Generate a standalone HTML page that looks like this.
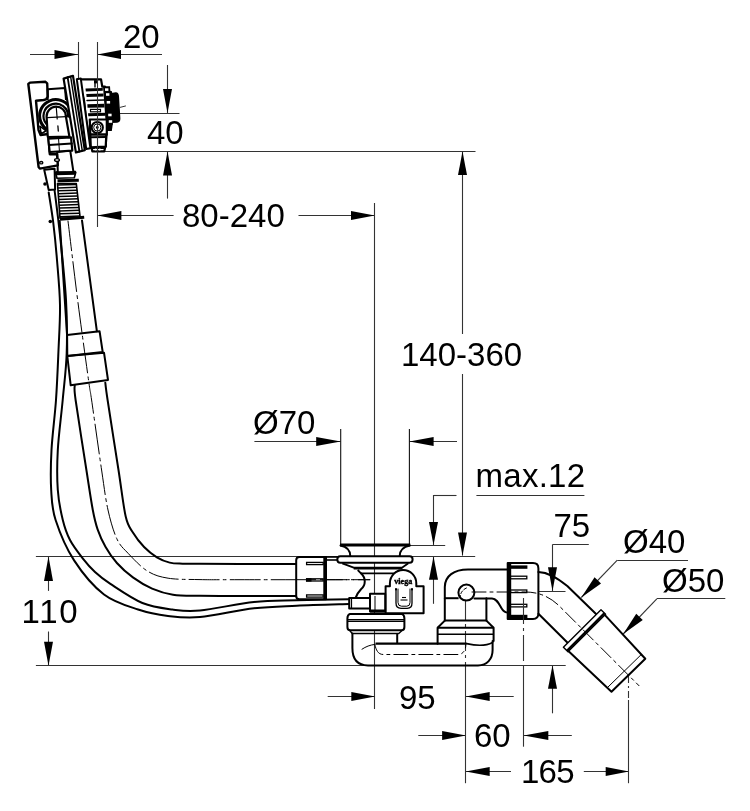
<!DOCTYPE html>
<html><head><meta charset="utf-8"><style>
html,body{margin:0;padding:0;background:#fff;}
svg{display:block;will-change:transform;}
</style></head><body>
<svg width="750" height="811" viewBox="0 0 750 811" font-family="'Liberation Sans', sans-serif" fill="none">
<rect width="750" height="811" fill="#fff"/>
<g fill="#000" stroke="none">
</g>
<line x1="30" y1="54.5" x2="78" y2="54.5" stroke="#333" stroke-width="1.1" />
<polygon points="78.00,54.50 54.50,59.00 54.50,50.00" fill="#000"/>
<line x1="97.3" y1="54.5" x2="162" y2="54.5" stroke="#333" stroke-width="1.1" />
<polygon points="97.30,54.50 121.00,50.00 121.00,59.00" fill="#000"/>
<line x1="78.5" y1="42" x2="78.5" y2="80" stroke="#333" stroke-width="1.1" />
<text fill="#000" x="123" y="47.7" font-size="33" text-anchor="start">20</text>
<line x1="167.5" y1="65" x2="167.5" y2="113" stroke="#333" stroke-width="1.1" />
<polygon points="167.50,113.00 163.00,89.00 172.00,89.00" fill="#000"/>
<line x1="120" y1="113.5" x2="179.5" y2="113.5" stroke="#333" stroke-width="1.1" />
<line x1="104" y1="151.5" x2="475.5" y2="151.5" stroke="#333" stroke-width="1.1" />
<line x1="167.5" y1="151.5" x2="167.5" y2="198.6" stroke="#333" stroke-width="1.1" />
<polygon points="167.50,151.50 172.00,175.50 163.00,175.50" fill="#000"/>
<text fill="#000" x="147" y="143.7" font-size="33" text-anchor="start">40</text>
<line x1="97.3" y1="215.5" x2="173.6" y2="215.5" stroke="#333" stroke-width="1.1" />
<polygon points="97.30,215.50 121.40,211.00 121.40,220.00" fill="#000"/>
<line x1="298.5" y1="215.5" x2="374.7" y2="215.5" stroke="#333" stroke-width="1.1" />
<polygon points="374.70,215.50 351.00,220.00 351.00,211.00" fill="#000"/>
<text fill="#000" x="182" y="227" font-size="33" text-anchor="start">80-240</text>
<line x1="374.5" y1="203" x2="374.5" y2="709" stroke="#333" stroke-width="1.1" />
<line x1="462.5" y1="151.5" x2="462.5" y2="334" stroke="#333" stroke-width="1.1" />
<polygon points="462.50,151.50 467.00,175.00 458.00,175.00" fill="#000"/>
<line x1="462.5" y1="374" x2="462.5" y2="555.6" stroke="#333" stroke-width="1.1" />
<polygon points="462.50,555.60 458.00,532.50 467.00,532.50" fill="#000"/>
<text fill="#000" x="401" y="365.5" font-size="33" text-anchor="start">140-360</text>
<line x1="254.4" y1="441.5" x2="340.7" y2="441.5" stroke="#333" stroke-width="1.1" />
<polygon points="340.70,441.50 316.20,446.00 316.20,437.00" fill="#000"/>
<line x1="409.4" y1="441.5" x2="457" y2="441.5" stroke="#333" stroke-width="1.1" />
<polygon points="409.40,441.50 433.60,437.00 433.60,446.00" fill="#000"/>
<text fill="#000" x="253" y="434" font-size="33" text-anchor="start">Ø70</text>
<line x1="476.4" y1="495.5" x2="584.4" y2="495.5" stroke="#333" stroke-width="1.1" />
<line x1="433.4" y1="495.5" x2="456.5" y2="495.5" stroke="#333" stroke-width="1.1" />
<line x1="433.5" y1="495" x2="433.5" y2="545" stroke="#333" stroke-width="1.1" />
<polygon points="433.50,545.00 429.00,522.00 438.00,522.00" fill="#000"/>
<line x1="410" y1="545.5" x2="445.2" y2="545.5" stroke="#333" stroke-width="1.1" />
<line x1="433.5" y1="556.6" x2="433.5" y2="603.8" stroke="#333" stroke-width="1.1" />
<polygon points="433.50,556.60 438.00,579.80 429.00,579.80" fill="#000"/>
<line x1="35.9" y1="556.5" x2="475.2" y2="556.5" stroke="#333" stroke-width="1.1" />
<text fill="#000" x="475.5" y="487.4" font-size="33" text-anchor="start" textLength="109.6" lengthAdjust="spacing">max.12</text>
<line x1="552.8" y1="544.5" x2="588.8" y2="544.5" stroke="#333" stroke-width="1.1" />
<line x1="552.5" y1="544.3" x2="552.5" y2="591" stroke="#333" stroke-width="1.1" />
<polygon points="552.50,591.00 548.00,567.30 557.00,567.30" fill="#000"/>
<line x1="530" y1="591.5" x2="565.5" y2="591.5" stroke="#333" stroke-width="1.1" />
<line x1="552.5" y1="665.3" x2="552.5" y2="713.3" stroke="#333" stroke-width="1.1" />
<polygon points="552.50,665.30 557.00,688.80 548.00,688.80" fill="#000"/>
<line x1="35.9" y1="665.5" x2="565.7" y2="665.5" stroke="#333" stroke-width="1.1" />
<text fill="#000" x="553.5" y="536.7" font-size="33" text-anchor="start">75</text>
<line x1="617.3" y1="560.5" x2="688" y2="560.5" stroke="#333" stroke-width="1.1" />
<line x1="581.3" y1="597.5" x2="617.3" y2="560.1" stroke="#333" stroke-width="1.1" />
<polygon points="581.30,597.50 594.56,577.28 601.04,583.52" fill="#000"/>
<text fill="#000" x="623" y="553" font-size="33" text-anchor="start">Ø40</text>
<line x1="656.8" y1="598.5" x2="725.3" y2="598.5" stroke="#333" stroke-width="1.1" />
<line x1="623.2" y1="634" x2="656.8" y2="598.8" stroke="#333" stroke-width="1.1" />
<polygon points="623.20,634.00 636.24,613.80 642.76,620.00" fill="#000"/>
<text fill="#000" x="662" y="592" font-size="33" text-anchor="start">Ø50</text>
<line x1="48.5" y1="556.4" x2="48.5" y2="590.9" stroke="#333" stroke-width="1.1" />
<polygon points="48.50,556.40 53.00,580.90 44.00,580.90" fill="#000"/>
<line x1="48.5" y1="631.5" x2="48.5" y2="665.7" stroke="#333" stroke-width="1.1" />
<polygon points="48.50,665.70 44.00,641.80 53.00,641.80" fill="#000"/>
<text fill="#000" x="21.5" y="622.8" font-size="33" text-anchor="start" textLength="56.1" lengthAdjust="spacing">110</text>
<line x1="327.7" y1="696.5" x2="375" y2="696.5" stroke="#333" stroke-width="1.1" />
<polygon points="375.00,696.50 351.30,701.00 351.30,692.00" fill="#000"/>
<line x1="465.9" y1="696.5" x2="513.7" y2="696.5" stroke="#333" stroke-width="1.1" />
<polygon points="465.90,696.50 489.70,692.00 489.70,701.00" fill="#000"/>
<text fill="#000" x="399" y="708.5" font-size="33" text-anchor="start">95</text>
<line x1="418.3" y1="735.5" x2="465.9" y2="735.5" stroke="#333" stroke-width="1.1" />
<polygon points="465.90,735.50 442.10,740.00 442.10,731.00" fill="#000"/>
<line x1="523.8" y1="735.5" x2="571.8" y2="735.5" stroke="#333" stroke-width="1.1" />
<polygon points="523.80,735.50 548.30,731.00 548.30,740.00" fill="#000"/>
<line x1="523.5" y1="665" x2="523.5" y2="746.7" stroke="#333" stroke-width="1.1" />
<text fill="#000" x="474" y="747" font-size="33" text-anchor="start">60</text>
<line x1="465.8" y1="771.5" x2="511" y2="771.5" stroke="#333" stroke-width="1.1" />
<polygon points="465.80,771.50 489.70,767.00 489.70,776.00" fill="#000"/>
<line x1="583.8" y1="771.5" x2="628.9" y2="771.5" stroke="#333" stroke-width="1.1" />
<polygon points="628.90,771.50 605.70,776.00 605.70,767.00" fill="#000"/>
<line x1="465.5" y1="600" x2="465.5" y2="665" stroke="#333" stroke-width="1.1" stroke-dasharray="20 4 3 4"/>
<line x1="465.5" y1="665" x2="465.5" y2="783.2" stroke="#333" stroke-width="1.1" />
<line x1="628.5" y1="676" x2="628.5" y2="700" stroke="#333" stroke-width="1.1" stroke-dasharray="7 3 2 3"/>
<line x1="628.5" y1="700" x2="628.5" y2="783.2" stroke="#333" stroke-width="1.1" />
<text fill="#000" x="521" y="783" font-size="33" text-anchor="start" textLength="53.5" lengthAdjust="spacing">165</text>
<path d="M59.70,221.00 C60.30,230.33 62.08,258.17 63.30,277.00 C64.52,295.83 66.38,324.50 67.00,334.00" stroke="#000" fill="none" stroke-linejoin="round" stroke-linecap="round" stroke-width="2" />
<path d="M74.70,385.50 C74.85,387.92 73.65,385.92 75.60,400.00 C77.55,414.08 83.53,451.67 86.40,470.00 C89.27,488.33 90.93,500.12 92.80,510.00 C94.67,519.88 95.47,523.13 97.60,529.30 C99.73,535.47 102.38,541.38 105.60,547.00 C108.82,552.62 112.35,557.93 116.90,563.00 C121.45,568.07 127.03,573.13 132.90,577.40 C138.77,581.67 145.42,585.72 152.10,588.60 C158.78,591.48 165.02,593.50 173.00,594.70 C180.98,595.90 188.83,595.60 200.00,595.80 C211.17,596.00 224.00,595.88 240.00,595.90 C256.00,595.92 286.67,595.90 296.00,595.90" stroke="#000" fill="none" stroke-linejoin="round" stroke-linecap="round" stroke-width="2" />
<path d="M82.00,220.50 C84.48,238.97 94.42,312.83 96.90,331.30" stroke="#000" fill="none" stroke-linejoin="round" stroke-linecap="round" stroke-width="2" />
<path d="M105.30,382.70 C105.68,385.58 105.40,385.45 107.60,400.00 C109.80,414.55 115.48,450.58 118.50,470.00 C121.52,489.42 123.30,506.08 125.70,516.50 C128.10,526.92 129.83,527.42 132.90,532.50 C135.97,537.58 140.10,542.87 144.10,547.00 C148.10,551.13 152.63,554.70 156.90,557.30 C161.17,559.90 165.42,561.53 169.70,562.60 C173.98,563.67 177.55,563.50 182.60,563.70 C187.65,563.90 190.43,563.77 200.00,563.80 C209.57,563.83 224.00,563.88 240.00,563.90 C256.00,563.92 286.67,563.90 296.00,563.90" stroke="#000" fill="none" stroke-linejoin="round" stroke-linecap="round" stroke-width="2" />
<path d="M68.00,221.00 C69.67,234.62 74.55,275.98 78.00,302.70 C81.45,329.42 86.43,365.08 88.70,381.30 C90.97,397.52 89.45,385.22 91.60,400.00 C93.75,414.78 98.87,451.67 101.60,470.00 C104.33,488.33 105.45,498.52 108.00,510.00 C110.55,521.48 113.55,531.68 116.90,538.90 C120.25,546.12 123.03,547.95 128.10,553.30 C133.17,558.65 140.63,566.85 147.30,571.00 C153.97,575.15 159.32,576.77 168.10,578.20 C176.88,579.63 188.02,579.35 200.00,579.60 C211.98,579.85 211.67,579.68 240.00,579.70 C268.33,579.72 348.33,579.70 370.00,579.70" stroke="#000" fill="none" stroke-linejoin="round" stroke-linecap="round" stroke-width="1" stroke-dasharray="30 4 3 4"/>
<polygon points="67.10,335.00 99.60,331.30 102.70,352.00 67.30,356.00" stroke="#000" fill="none" stroke-width="2" stroke-linejoin="round" />
<polygon points="67.30,356.00 104.00,352.70 108.00,380.00 70.70,385.30" stroke="#000" fill="none" stroke-width="2" stroke-linejoin="round" />
<path d="M48.70,192.50 C49.47,197.58 51.92,211.75 53.30,223.00 C54.68,234.25 55.88,246.33 57.00,260.00 C58.12,273.67 59.75,290.00 60.00,305.00 C60.25,320.00 59.17,334.17 58.50,350.00 C57.83,365.83 57.17,383.33 56.00,400.00 C54.83,416.67 52.30,435.00 51.50,450.00 C50.70,465.00 50.52,478.33 51.20,490.00 C51.88,501.67 51.78,508.27 55.60,520.00 C59.42,531.73 66.03,547.98 74.10,560.40 C82.17,572.82 93.33,586.32 104.00,594.50 C114.67,602.68 127.43,605.93 138.10,609.50 C148.77,613.07 157.68,614.65 168.00,615.90 C178.32,617.15 185.67,618.27 200.00,617.00 C214.33,615.73 237.88,610.18 254.00,608.30 C270.12,606.42 280.87,606.42 296.70,605.70 C312.53,604.98 340.28,604.28 349.00,604.00" stroke="#000" fill="none" stroke-linejoin="round" stroke-linecap="round" stroke-width="2" />
<path d="M54.60,190.50 C55.50,197.92 58.10,216.75 60.00,235.00 C61.90,253.25 64.88,280.33 66.00,300.00 C67.12,319.67 67.25,336.33 66.70,353.00 C66.15,369.67 64.18,383.83 62.70,400.00 C61.22,416.17 58.62,435.00 57.80,450.00 C56.98,465.00 56.97,478.33 57.80,490.00 C58.63,501.67 60.77,511.67 62.80,520.00 C64.83,528.33 66.68,533.62 70.00,540.00 C73.32,546.38 78.53,552.97 82.70,558.30 C86.87,563.63 90.38,567.73 95.00,572.00 C99.62,576.27 102.50,578.73 110.40,583.90 C118.30,589.07 132.08,598.73 142.40,603.00 C152.72,607.27 162.70,608.25 172.30,609.50 C181.90,610.75 186.38,611.77 200.00,610.50 C213.62,609.23 237.88,603.62 254.00,601.90 C270.12,600.18 280.87,600.63 296.70,600.20 C312.53,599.77 340.28,599.45 349.00,599.30" stroke="#000" fill="none" stroke-linejoin="round" stroke-linecap="round" stroke-width="2" />
<circle cx="45" cy="184" r="1.8" fill="#000"/>
<circle cx="50.3" cy="221.5" r="1.8" fill="#000"/>
<polygon points="57.50,183.60 76.30,183.60 80.20,218.10 60.00,218.10" stroke="#000" fill="#fff" stroke-width="1.6" stroke-linejoin="round" />
<line x1="57.60" y1="185.04" x2="76.46" y2="184.44" stroke="#000" stroke-width="1.5"/>
<line x1="57.81" y1="187.91" x2="76.79" y2="187.31" stroke="#000" stroke-width="1.5"/>
<line x1="58.02" y1="190.79" x2="77.11" y2="190.19" stroke="#000" stroke-width="1.5"/>
<line x1="58.23" y1="193.66" x2="77.44" y2="193.06" stroke="#000" stroke-width="1.5"/>
<line x1="58.44" y1="196.54" x2="77.76" y2="195.94" stroke="#000" stroke-width="1.5"/>
<line x1="58.65" y1="199.41" x2="78.09" y2="198.81" stroke="#000" stroke-width="1.5"/>
<line x1="58.85" y1="202.29" x2="78.41" y2="201.69" stroke="#000" stroke-width="1.5"/>
<line x1="59.06" y1="205.16" x2="78.74" y2="204.56" stroke="#000" stroke-width="1.5"/>
<line x1="59.27" y1="208.04" x2="79.06" y2="207.44" stroke="#000" stroke-width="1.5"/>
<line x1="59.48" y1="210.91" x2="79.39" y2="210.31" stroke="#000" stroke-width="1.5"/>
<line x1="59.69" y1="213.79" x2="79.71" y2="213.19" stroke="#000" stroke-width="1.5"/>
<line x1="59.90" y1="216.66" x2="80.04" y2="216.06" stroke="#000" stroke-width="1.5"/>
<line x1="60" y1="219.3" x2="84.2" y2="217.3" stroke="#000" stroke-width="3"/>
<line x1="57.5" y1="180.8" x2="78.8" y2="180.2" stroke="#000" stroke-width="3"/>
<polygon points="55.60,172.80 75.80,172.30 74.30,177.70 57.00,178.20" stroke="#000" fill="#fff" stroke-width="1.6" stroke-linejoin="round" />
<line x1="55.6" y1="172.8" x2="75.8" y2="172.3" stroke="#000" stroke-width="3"/>
<polygon points="44.20,169.80 54.60,168.80 55.10,189.50 48.70,190.00" stroke="#000" fill="#fff" stroke-width="2" stroke-linejoin="round" />
<polygon points="57.20,152.00 70.20,150.50 73.50,172.30 57.80,172.60" stroke="#000" fill="#fff" stroke-width="2" stroke-linejoin="round" />
<line x1="55.4" y1="173.4" x2="75.8" y2="172.9" stroke="#000" stroke-width="3.6"/>
<polygon points="28.30,84.00 30.00,82.60 45.50,81.80 47.20,83.30 47.70,96.70 46.00,99.30 43.70,100.00 36.00,100.70 38.50,130.00 40.60,135.00 48.20,134.00 49.80,154.20 57.00,154.00 57.80,165.40 39.80,168.60 38.60,167.00" stroke="#000" fill="#fff" stroke-width="2.4" stroke-linejoin="round" />
<polyline points="47.70,100.00 47.70,89.30 65.00,88.00 66.00,100.00" stroke="#000" fill="none" stroke-width="2" stroke-linejoin="round" />
<path d="M39.5,130 L39,114 C40,104 47,99 55.5,99 C64,99 70.5,104 71.8,112 L72.5,135 L58,137 Z" stroke="#000" fill="#fff" stroke-width="0" stroke-linejoin="round" stroke-linecap="round" />
<path d="M71.84,118.05 A16.2,16.2 0 1 0 45.83,128.57" stroke="#000" fill="none" stroke-width="3.0" stroke-linejoin="round" stroke-linecap="round" />
<path d="M68.08,116.64 A12.3,12.3 0 1 0 46.66,124.23" stroke="#000" fill="none" stroke-width="2.2" stroke-linejoin="round" stroke-linecap="round" />
<path d="M47.8,137 L46.6,116.5 A9.6,9.6 0 0 1 65.8,116 L69.4,136.6 Z" stroke="#000" fill="#fff" stroke-width="2.2" stroke-linejoin="round" stroke-linecap="round" />
<line x1="47.20" y1="117.60" x2="66.20" y2="116.60" stroke="#000" stroke-width="1.2" stroke-linecap="round" />
<line x1="56.20" y1="106.50" x2="57.20" y2="119.00" stroke="#000" stroke-width="1.2" stroke-linecap="round" />
<line x1="57.90" y1="126.00" x2="58.30" y2="131.00" stroke="#000" stroke-width="1.3" stroke-linecap="round" />
<polygon points="39.80,126.20 46.20,130.80 41.20,133.80" stroke="#000" fill="#fff" stroke-width="1.6" stroke-linejoin="round" />
<polygon points="48.30,138.70 71.00,137.30 72.30,150.70 49.70,152.00" stroke="#000" fill="#fff" stroke-width="2.2" stroke-linejoin="round" />
<line x1="49.00" y1="145.00" x2="71.80" y2="143.60" stroke="#000" stroke-width="2" stroke-linecap="round" />
<line x1="58.50" y1="138.00" x2="59.50" y2="152.00" stroke="#000" stroke-width="1" stroke-linecap="round" />
<ellipse cx="41.2" cy="162.7" rx="1.6" ry="1.2" stroke="#000" stroke-width="1.4" fill="#fff"/>
<ellipse cx="57" cy="160" rx="2.4" ry="1.4" stroke="#000" stroke-width="1.4" fill="#fff"/>
<polygon points="77.70,79.30 101.00,79.30 102.30,86.70 105.00,86.70 106.30,91.30 111.00,92.00 111.70,124.00 106.30,130.70 106.30,134.70 105.70,146.70 90.30,148.00 89.00,134.70 86.00,120.00 84.00,100.00" stroke="#000" fill="#fff" stroke-width="2.2" stroke-linejoin="round" />
<path d="M111.3,93.6 L115.8,93 Q118,93.3 118.3,96 L119.7,118.5 Q119.8,121.6 117,122 L111.6,122.3 Z" stroke="#000" fill="#000" stroke-width="1.4" stroke-linejoin="round" stroke-linecap="round" />
<polygon points="103,86.3 110,86.3 112.8,124 111.8,131 106.3,131" fill="#000"/>
<rect x="105" y="88.3" width="3.4" height="2.6" fill="#fff"/>
<rect x="106" y="93.2" width="3.4" height="2.6" fill="#fff"/>
<rect x="106.7" y="101" width="3.4" height="2.6" fill="#fff"/>
<rect x="108.2" y="113.7" width="3.4" height="2.6" fill="#fff"/>
<rect x="108.8" y="120.2" width="3.4" height="2.6" fill="#fff"/>
<polygon points="85.5,88.6 102.8,88 102.8,90.8 85.8,91.4" fill="#000"/>
<polygon points="86.3,94 103.5,93.6 103.5,96.6 86.6,97" fill="#000"/>
<line x1="87.00" y1="100.50" x2="104.00" y2="100.00" stroke="#000" stroke-width="1.4" stroke-linecap="round" />
<polygon points="87.3,104.2 104.2,103.8 104.4,107.4 87.6,107.8" fill="#000"/>
<rect x="90.5" y="109.4" width="10" height="2.4" fill="#fff" stroke="#000" stroke-width="1.2"/>
<polygon points="88,113.2 105.3,112.8 105.5,115.8 88.3,116.2" fill="#000"/>
<line x1="95.00" y1="81.00" x2="95.00" y2="87.00" stroke="#000" stroke-width="1.4" stroke-linecap="round" />
<rect x="94" y="80.2" width="4" height="3.2" fill="#000"/>
<polygon points="89.80,119.50 106.80,119.50 106.80,134.70 90.30,134.70" stroke="#000" fill="#fff" stroke-width="2.2" stroke-linejoin="round" />
<circle cx="97.3" cy="127.5" r="5.6" stroke="#000" stroke-width="2" fill="#fff"/>
<circle cx="97.3" cy="127.5" r="3.6" stroke="#000" stroke-width="1" fill="#fff"/>
<circle cx="97.3" cy="127.5" r="1.4" fill="#000"/>
<polygon points="90.30,134.70 106.30,134.70 105.70,146.70 90.80,147.30" stroke="#000" fill="#fff" stroke-width="2.2" stroke-linejoin="round" />
<line x1="90.50" y1="137.30" x2="106.00" y2="137.10" stroke="#000" stroke-width="2" stroke-linecap="round" />
<polygon points="91.70,148.00 105.00,148.00 104.30,151.30 92.30,151.30" stroke="#000" fill="#fff" stroke-width="2.2" stroke-linejoin="round" />
<rect x="94.8" y="148.6" width="1.6" height="1.8" fill="#fff"/><rect x="99" y="148.6" width="1.6" height="1.8" fill="#fff"/>
<polygon points="63.60,78.60 73.00,75.80 84.80,150.20 75.90,152.40" stroke="#000" fill="#fff" stroke-width="2.2" stroke-linejoin="round" />
<line x1="67.60" y1="77.20" x2="79.40" y2="151.50" stroke="#000" stroke-width="1.8" stroke-linecap="round" />
<line x1="70.60" y1="76.40" x2="82.30" y2="150.80" stroke="#000" stroke-width="1.4" stroke-linecap="round" />
<polygon points="76.80,79.20 80.80,78.60 90.40,148.20 86.20,149.00" stroke="#000" fill="#fff" stroke-width="2.0" stroke-linejoin="round" />
<line x1="120.00" y1="107.40" x2="125.50" y2="106.00" stroke="#333" stroke-width="1" stroke-linecap="round" />
<path d="M299.5,557 H326 V599.3 H299.5 Q296.2,599.3 296.2,596 V560.3 Q296.2,557 299.5,557 Z" stroke="#000" fill="#fff" stroke-width="2" stroke-linejoin="round" stroke-linecap="round" />
<line x1="324.8" y1="557" x2="324.8" y2="599.3" stroke="#000" stroke-width="3" />
<rect x="306.6" y="562.4" width="16.6" height="2.2" fill="#fff" stroke="#000" stroke-width="1.3"/>
<rect x="306.6" y="578.8" width="16.6" height="2.2" fill="#fff" stroke="#000" stroke-width="1.3"/>
<rect x="306.6" y="594.9" width="16.6" height="2.2" fill="#fff" stroke="#000" stroke-width="1.3"/>
<rect x="306" y="578.2" width="5.5" height="3.4" fill="#000"/>
<line x1="296" y1="579.7" x2="370" y2="579.7" stroke="#000" stroke-width="1" stroke-dasharray="20 4 3 4"/>
<polyline points="326.00,557.00 337.30,557.00" stroke="#000" fill="none" stroke-width="1.6" stroke-linejoin="round" />
<polyline points="326.00,560.00 337.50,560.00" stroke="#000" fill="none" stroke-width="1.6" stroke-linejoin="round" />
<line x1="340.7" y1="429" x2="340.7" y2="545" stroke="#111" stroke-width="1.1" />
<line x1="409.4" y1="429" x2="409.4" y2="545" stroke="#111" stroke-width="1.1" />
<line x1="340" y1="545" x2="410.3" y2="545" stroke="#000" stroke-width="3" />
<path d="M340.5,545.5 C346,546.5 350.3,549 350.3,556.3" stroke="#000" fill="none" stroke-width="2" stroke-linejoin="round" stroke-linecap="round" />
<path d="M409.8,545.5 C404.3,546.5 399.7,549 399.7,556.3" stroke="#000" fill="none" stroke-width="2" stroke-linejoin="round" stroke-linecap="round" />
<path d="M340.3,556.3 H409.6 Q412.6,556.3 412.6,559.5 Q412.6,562.7 409.6,562.7 H340.3 Q337.3,562.7 337.3,559.5 Q337.3,556.3 340.3,556.3 Z" stroke="#000" fill="#fff" stroke-width="2" stroke-linejoin="round" stroke-linecap="round" />
<polyline points="342.30,563.30 353.70,567.60 402.30,567.60 408.30,563.30" stroke="#000" fill="none" stroke-width="1.8" stroke-linejoin="round" />
<line x1="353.7" y1="568.2" x2="402.3" y2="568.2" stroke="#000" stroke-width="2.6" />
<polyline points="357.70,570.00 361.00,573.30 395.70,573.30 399.70,570.00" stroke="#000" fill="none" stroke-width="1.8" stroke-linejoin="round" />
<path d="M361,573.3 C366,578 366,585 361,589.3 C358.5,592 356.5,595 355.7,597.6" stroke="#000" fill="none" stroke-width="2" stroke-linejoin="round" stroke-linecap="round" />
<path d="M385.6,613.2 V586.3 H389.9 V583.2 A13.2,13.2 0 0 1 416.3,583.2 V586.3 H423.6 V613.2 Z" stroke="#000" fill="#fff" stroke-width="2" stroke-linejoin="round" stroke-linecap="round" />
<text fill="#000" x="394.3" y="583.6" font-size="7.4" textLength="18" lengthAdjust="spacingAndGlyphs" font-family="Liberation Serif" font-weight="bold" fill="#000" stroke="#000" stroke-width="0.35">viega</text>
<path d="M396,589 V603 Q396,608.3 401,608.3 H407.3 Q412,608.3 412,603 V589" stroke="#000" fill="none" stroke-width="1.3" stroke-linejoin="round" stroke-linecap="round" />
<path d="M398,589 V602.5 Q398,606.2 401.5,606.2 H406.8 Q410,606.2 410,602.5 V589" stroke="#000" fill="none" stroke-width="1" stroke-linejoin="round" stroke-linecap="round" />
<line x1="400.5" y1="600" x2="407.5" y2="600" stroke="#000" stroke-width="1.1" />
<line x1="402" y1="597.5" x2="406" y2="597.5" stroke="#000" stroke-width="1.1" />
<rect x="395" y="588.3" width="2" height="2" fill="#000"/><rect x="411" y="588.3" width="2" height="2" fill="#000"/>
<polygon points="370.00,593.70 385.20,593.70 385.20,611.60 370.00,611.60" stroke="#000" fill="#fff" stroke-width="2" stroke-linejoin="round" />
<line x1="370" y1="611" x2="386" y2="611" stroke="#000" stroke-width="3" />
<line x1="375" y1="596" x2="375" y2="611" stroke="#000" stroke-width="1" />
<polygon points="349.20,598.00 370.00,598.00 370.00,608.40 349.20,608.40" stroke="#000" fill="#fff" stroke-width="2" stroke-linejoin="round" />
<line x1="351.5" y1="598" x2="351.5" y2="608.4" stroke="#000" stroke-width="1.2" />
<path d="M350,613.9 H401.8 Q404.4,615 404.4,618.5 V627 Q404.4,630.3 401.5,630.3 H350.3 Q347.4,630.3 347.4,627 V618.5 Q347.4,615 350,613.9 Z" stroke="#000" fill="#fff" stroke-width="2" stroke-linejoin="round" stroke-linecap="round" />
<line x1="347.6" y1="619.7" x2="404.2" y2="619.7" stroke="#000" stroke-width="1.6" />
<line x1="347.6" y1="621.5" x2="404.2" y2="621.5" stroke="#000" stroke-width="1.2" />
<polyline points="349.50,630.30 352.20,633.50 398.80,633.50 402.30,630.30" stroke="#000" fill="none" stroke-width="1.4" stroke-linejoin="round" />
<path d="M352.4,633.6 V648 C352.4,659 357.5,665.4 368,665.4 H478 C487,665.4 492.6,659 492.6,650 V641" stroke="#000" fill="none" stroke-width="2" stroke-linejoin="round" stroke-linecap="round" />
<line x1="397.2" y1="633.6" x2="397.2" y2="643.6" stroke="#000" stroke-width="2" />
<line x1="375.5" y1="643.6" x2="466.6" y2="643.6" stroke="#000" stroke-width="2.2" />
<path d="M362,649.2 C366,646.5 370,645 374.8,644.4" stroke="#000" fill="none" stroke-width="1" stroke-linejoin="round" stroke-linecap="round" />
<path d="M374.8,644.4 C376,650 378,654.5 383,654.5 H458 C463,654.5 465.8,650 465.8,645" stroke="#000" fill="none" stroke-width="1" stroke-linejoin="round" stroke-linecap="round" stroke-dasharray="14 4 3 4"/>
<path d="M437.6,627.8 H493.6 V641 M437.6,627.8 V643.8" stroke="#000" fill="none" stroke-width="2" stroke-linejoin="round" stroke-linecap="round" />
<path d="M466.6,643.6 C475,645.5 486,646 492.6,642.5" stroke="#000" fill="none" stroke-width="1.6" stroke-linejoin="round" stroke-linecap="round" />
<line x1="437.6" y1="634.2" x2="493.6" y2="634.2" stroke="#000" stroke-width="1.6" />
<polyline points="444.80,620.60 437.60,627.80" stroke="#000" fill="none" stroke-width="2" stroke-linejoin="round" />
<polyline points="486.40,620.60 493.60,627.80" stroke="#000" fill="none" stroke-width="2" stroke-linejoin="round" />
<line x1="444.8" y1="620.6" x2="486.4" y2="620.6" stroke="#000" stroke-width="2" />
<path d="M444.8,620.6 V598.2 M486.4,620.6 V598.2" stroke="#000" fill="none" stroke-width="2" stroke-linejoin="round" stroke-linecap="round" />
<path d="M444.8,598.2 V587 C444.8,576 454,569.4 468,569.4 H508" stroke="#000" fill="none" stroke-width="2" stroke-linejoin="round" stroke-linecap="round" />
<line x1="444.8" y1="598.2" x2="458.6" y2="598.2" stroke="#000" stroke-width="2" />
<circle cx="466.4" cy="592.6" r="8" stroke="#000" stroke-width="2" fill="#fff"/>
<path d="M474.4,598.4 H492 C497,598.6 499,604 502,609 C503.5,611.5 505,612.6 508,612.6" stroke="#000" fill="none" stroke-width="2" stroke-linejoin="round" stroke-linecap="round" />
<path d="M466.4,588 C462,590 460,594 460,598" stroke="#000" fill="none" stroke-width="1" stroke-linejoin="round" stroke-linecap="round" stroke-dasharray="3 2"/>
<path d="M507.7,563 H533 Q538.4,563 538.4,568.4 V613.6 Q538.4,619 533,619 H507.7 Z" stroke="#000" fill="#fff" stroke-width="2" stroke-linejoin="round" stroke-linecap="round" />
<rect x="507" y="563" width="4.2" height="56" fill="#000"/>
<rect x="510" y="565.4" width="17.4" height="3.4" fill="#000"/>
<rect x="510" y="614.8" width="17.4" height="4.2" fill="#000"/>
<rect x="510.6" y="576.2" width="16.2" height="2.6" fill="#fff" stroke="#000" stroke-width="1.3"/>
<rect x="510.6" y="590.0" width="16.2" height="2.6" fill="#fff" stroke="#000" stroke-width="1.3"/>
<rect x="510.6" y="604.3" width="16.2" height="2.6" fill="#fff" stroke="#000" stroke-width="1.3"/>
<path d="M538.4,572.1 C548,572.5 556,577 567.3,586 L597.6,615.5" stroke="#000" fill="none" stroke-width="2" stroke-linejoin="round" stroke-linecap="round" />
<path d="M538.4,613.7 L568.1,643.2" stroke="#000" fill="none" stroke-width="2" stroke-linejoin="round" stroke-linecap="round" />
<polygon points="601,609.8 605.6,614.2 568,651.8 563.4,647.2" fill="#fff" stroke="#000" stroke-width="1.4" stroke-linejoin="round"/>
<line x1="604.6" y1="613.2" x2="567" y2="650.8" stroke="#000" stroke-width="2.4" />
<polyline points="604.50,614.60 645.30,658.80 611.50,691.70 567.30,650.10" stroke="#000" fill="none" stroke-width="2" stroke-linejoin="round" />
<line x1="641" y1="654.8" x2="607.5" y2="687.5" stroke="#000" stroke-width="1" />
<path d="M472,592 H525.3 Q545.3,592 559.4,606.1 L639,685.7" stroke="#000" fill="none" stroke-width="1" stroke-linejoin="round" stroke-linecap="round" stroke-dasharray="14 4 3 4"/>
<line x1="97.5" y1="42" x2="97.5" y2="227" stroke="#333" stroke-width="1.1" />
<line x1="523.5" y1="598" x2="523.5" y2="665" stroke="#333" stroke-width="1.1" stroke-dasharray="26 4 3 4"/>
</svg>
</body></html>
